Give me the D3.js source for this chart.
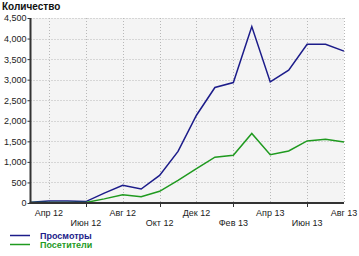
<!DOCTYPE html>
<html>
<head>
<meta charset="utf-8">
<script src="https://cdnjs.cloudflare.com/ajax/libs/d3/7.8.5/d3.min.js"></script>
<style>
    body { margin: 0; background: #fff; }
    svg { display: block; font-family: "Liberation Sans", Arial, sans-serif; }
</style>
</head>
<body>
<div id="chart"></div>
<script>
'use strict';

const months   = ['Мар 12', 'Апр 12', 'Май 12', 'Июн 12', 'Июл 12', 'Авг 12', 'Сен 12', 'Окт 12', 'Ноя 12',
                  'Дек 12', 'Янв 13', 'Фев 13', 'Мар 13', 'Апр 13', 'Май 13', 'Июн 13', 'Июл 13', 'Авг 13'];
const views    = [20, 50, 50, 35, 240, 430, 340, 670, 1255, 2135, 2810, 2930, 4290, 2945, 3230, 3860, 3860, 3695];
const visitors = [10, 15, 15, 15, 100, 200, 150, 285, 550, 835, 1115, 1160, 1690, 1175, 1265, 1510, 1550, 1485];
const yTicks   = [0, 500, 1000, 1500, 2000, 2500, 3000, 3500, 4000, 4500];
const xLabels  = ['Апр 12', 'Июн 12', 'Авг 12', 'Окт 12', 'Дек 12', 'Фев 13', 'Апр 13', 'Июн 13', 'Авг 13'];
const seriesNames = ['Просмотры', 'Посетители'];

const width = 359, height = 256;
const plot = { left: 30.5, right: 344, top: 18, bottom: 203 };

const svg = d3.select('#chart').append('svg')
    .attr('width', width)
    .attr('height', height);

const x = d3.scalePoint().domain(months).range([plot.left, plot.right]);
const y = d3.scaleLinear().domain([0, 4500]).range([plot.bottom, plot.top]);

// plot background
svg.append('rect')
    .attr('x', plot.left).attr('y', plot.top)
    .attr('width', plot.right - plot.left).attr('height', plot.bottom - plot.top)
    .style('fill', '#f4f4f4');

// grid
svg.append('g').selectAll('line')
    .data(yTicks.slice(1))
    .enter().append('line')
    .attr('x1', plot.left).attr('x2', plot.right)
    .attr('y1', d => Math.round(y(d)) + 0.5).attr('y2', d => Math.round(y(d)) + 0.5)
    .style('stroke', '#b8b8b8').style('stroke-dasharray', '1,2');

svg.append('g').selectAll('line')
    .data(xLabels)
    .enter().append('line')
    .attr('x1', d => Math.round(x(d)) + 0.5).attr('x2', d => Math.round(x(d)) + 0.5)
    .attr('y1', plot.top).attr('y2', plot.bottom)
    .style('stroke', '#b8b8b8').style('stroke-dasharray', '1,2');

// y axis
const yAxis = svg.append('g')
    .attr('transform', `translate(${plot.left},0)`)
    .call(d3.axisLeft(y).tickValues(yTicks).tickSize(3).tickFormat(d3.format(',')));
yAxis.select('.domain').remove();
yAxis.selectAll('line').style('stroke', '#333');
yAxis.selectAll('text').style('font-size', '9px').style('fill', '#222').attr('x', -4);

// x axis labels, two rows
const xAxis = svg.append('g');
xAxis.selectAll('text')
    .data(xLabels)
    .enter().append('text')
    .attr('x', d => x(d))
    .attr('y', (d, i) => i % 2 === 0 ? 216 : 226)
    .attr('text-anchor', 'middle')
    .style('font-size', '9px')
    .style('fill', '#222')
    .text(d => d);
xAxis.selectAll('line')
    .data(xLabels.filter((d, i) => i % 2 === 1))
    .enter().append('line')
    .attr('x1', d => Math.round(x(d)) + 0.5).attr('x2', d => Math.round(x(d)) + 0.5)
    .attr('y1', plot.bottom).attr('y2', plot.bottom + 4)
    .style('stroke', '#333');

// lines
const line = d3.line().x((d, i) => x(months[i])).y(d => y(d));
const series = [
    { name: seriesNames[0], values: views,    color: '#1c1c8a' },
    { name: seriesNames[1], values: visitors, color: '#1f9a1f' }
];

svg.selectAll('path.series')
    .data(series)
    .enter().append('path')
    .attr('class', 'series')
    .attr('d', d => line(d.values))
    .style('fill', 'none')
    .style('stroke', d => d.color)
    .style('stroke-width', 1.5);

// axis lines
svg.append('line')
    .attr('x1', plot.left).attr('x2', plot.left).attr('y1', plot.top).attr('y2', plot.bottom + 1)
    .style('stroke', '#333').style('stroke-width', 2);
svg.append('line')
    .attr('x1', plot.left - 1).attr('x2', plot.right).attr('y1', plot.bottom).attr('y2', plot.bottom)
    .style('stroke', '#333').style('stroke-width', 2);

// title
svg.append('text')
    .attr('x', 2).attr('y', 10)
    .style('font-size', '10px').style('font-weight', 'bold').style('fill', '#111')
    .text('Количество');

// legend
const legend = svg.append('g').selectAll('g')
    .data(series)
    .enter().append('g')
    .attr('transform', (d, i) => `translate(0,${235 + i * 9})`);
legend.append('line')
    .attr('x1', 10).attr('x2', 30).attr('y1', 0.5).attr('y2', 0.5)
    .style('stroke', d => d.color).style('stroke-width', 1.5);
legend.append('text')
    .attr('x', 40).attr('y', 3.5)
    .style('font-size', '9px').style('font-weight', 'bold')
    .style('fill', d => d.color)
    .text(d => d.name);
</script>
</body>
</html>
